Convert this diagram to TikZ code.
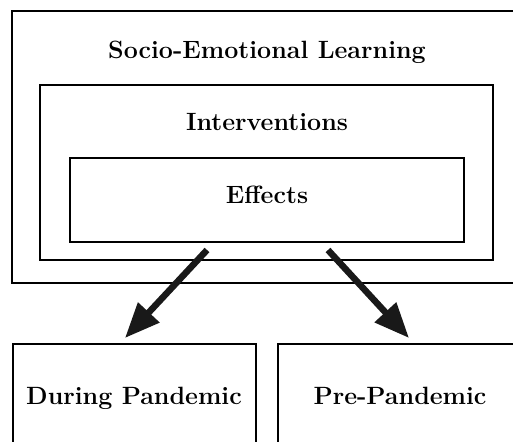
\documentclass[tikz,border=0pt]{standalone}
\usepackage{fontspec}
\usetikzlibrary{arrows.meta}
\begin{document}
\begin{tikzpicture}[x=1pt,y=1pt,
  box/.style={draw=black, line width=2.4pt, inner sep=0pt},
  lbl/.style={anchor=base, font=\fontsize{25}{30}\selectfont\bfseries, inner sep=0pt},
  bigarrow/.style={line width=6.5pt, draw=black!90, -{Triangle[length=35pt,width=28pt]}}]
\useasboundingbox (0,0) rectangle (513,441);
\clip (0,0) rectangle (513,441);
% outer box: x 12..530, y(px) 11..283
\node[box, minimum width=518pt, minimum height=272pt] (sel) at (271,294) {};
% interventions: x 40..493, y 85..260
\node[box, minimum width=453pt, minimum height=175pt] (int) at (266.5,268.5) {};
% effects: x 70..464, y 158..242
\node[box, minimum width=394pt, minimum height=84pt] (eff) at (267,241) {};
% bottom boxes
\node[box, minimum width=243pt, minimum height=120pt] (dur) at (134.5,37) {};
\node[box, minimum width=260pt, minimum height=120pt] (pre) at (408,37) {};
% labels
\node[lbl] (tsel) at (267,382) {Socio-Emotional Learning};
\node[lbl] (tint) at (267,310) {Interventions};
\node[lbl] (teff) at (267,237) {Effects};
\node[lbl] (tdur) at (134,36) {During Pandemic};
\node[lbl] (tpre) at (400,36) {Pre-Pandemic};
% arrows
\coordinate (a1s) at (207,191);
\coordinate (a1e) at (125,103);
\coordinate (a2s) at (328,191);
\coordinate (a2e) at (409,103);
\draw[bigarrow] (a1s) -- (a1e);
\draw[bigarrow] (a2s) -- (a2e);
\end{tikzpicture}
\end{document}
